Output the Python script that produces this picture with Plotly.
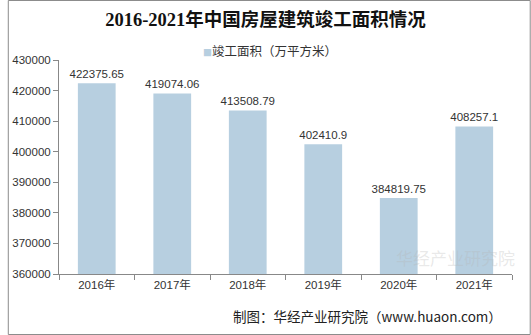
import plotly.graph_objects as go

years = ["2016年", "2017年", "2018年", "2019年", "2020年", "2021年"]
values = [422375.65, 419074.06, 413508.79, 402410.9, 384819.75, 408257.1]
labels = ["422375.65", "419074.06", "413508.79", "402410.9", "384819.75", "408257.1"]
series_name = "竣工面积（万平方米）"
bar_color = "#b7cfe0"

L, R, T, B = 52, 19, 60, 61
W, H = 531, 335
pw, ph = W - L - R, H - T - B

def px(x):
    return (x - L) / pw

def py(y):
    return (H - B - y) / ph

fig = go.Figure()
fig.add_trace(go.Bar(
    x=years, y=values, name=series_name,
    marker=dict(color=bar_color, line=dict(width=0)),
    width=0.5,
    text=labels, textposition="outside", cliponaxis=False, constraintext="none",
    textfont=dict(family="Liberation Sans, Arial", size=11.5, color="#333333"),
    showlegend=False,
))

fig.update_layout(
    width=W, height=H,
    margin=dict(l=L, r=R, t=T, b=B),
    paper_bgcolor="white", plot_bgcolor="white",
    showlegend=False,
    title=dict(text="<b>2016-2021年中国房屋建筑竣工面积情况</b>", x=0.5, xanchor="center",
               y=1 - 20 / H, yanchor="middle",
               font=dict(family="Liberation Serif, Noto Sans CJK SC", size=18.5, color="#111111")),
    xaxis=dict(showline=True, linecolor="#888888", linewidth=1, ticks="outside",
               tickson="boundaries", ticklen=5, tickcolor="#888888",
               tickfont=dict(family="Liberation Sans, Noto Sans CJK SC", size=11.5, color="#333333"),
               showgrid=False),
    yaxis=dict(range=[360000, 430000], dtick=10000, showline=True, linecolor="#888888",
               linewidth=1, ticks="outside", ticklen=5, tickcolor="#888888",
               tickfont=dict(family="Liberation Sans, Arial", size=11.5, color="#333333"),
               showgrid=False, tickformat="d", zeroline=False),
)

# legend
fig.add_annotation(text=f"<span style='color:{bar_color};font-size:9px'>■</span>{series_name}",
                   xref="paper", yref="paper", x=px(266), y=py(50),
                   xanchor="center", yanchor="middle", showarrow=False,
                   font=dict(family="Noto Sans CJK SC", size=12.5, color="#333333"))

fig.add_shape(type="rect", xref="paper", yref="paper",
              x0=px(0.5), x1=px(530.5), y0=py(334.5), y1=py(0.5),
              line=dict(color="#8c8c8c", width=1), fillcolor="rgba(0,0,0,0)", layer="above")

fig.add_annotation(text="制图：华经产业研究院（www.huaon.com）", xref="paper", yref="paper",
                   x=px(504), y=py(316), xanchor="right", yanchor="middle", showarrow=False,
                   font=dict(family="Noto Sans CJK SC", size=13.5, color="#222222"))

fig.add_annotation(text="华经产业研究院", xref="paper", yref="paper",
                   x=px(455), y=py(257), xanchor="center", yanchor="middle", showarrow=False,
                   font=dict(family="Noto Sans CJK SC", size=17, color="rgba(180,180,180,0.3)"))

fig.write_html("out.html")
